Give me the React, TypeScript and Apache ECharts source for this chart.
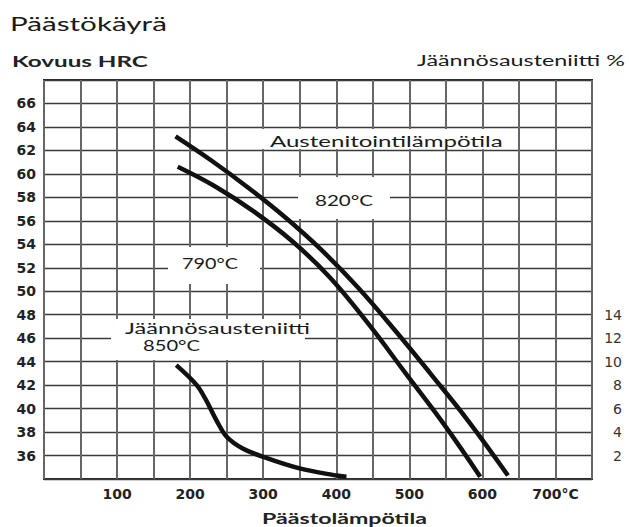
import React, { useEffect, useRef } from "react";
import * as echarts from "echarts";

// Tempering curve, austenitizing 820 °C (upper) and 790 °C (lower): temperature °C -> HRC
const temps820 = [180, 230, 280, 330, 380, 430, 480, 530, 580, 635];
const hrc820 = [63.2, 61.1, 58.8, 56.3, 53.5, 50.3, 46.7, 42.9, 39.0, 34.3];
const temps790 = [183, 235, 287, 339, 391, 443, 495, 547, 597];
const hrc790 = [60.6, 58.9, 56.8, 54.3, 51.2, 47.3, 43.0, 38.7, 34.2];
// Residual austenite (850 °C), right axis %
const tempsRA = [181, 209, 222, 236, 250, 272, 304, 350, 395, 414];
const residualRA = [9.7, 8.0, 6.7, 5.0, 3.6, 2.6, 1.8, 0.9, 0.35, 0.2];

const xTickLabels = [100, 200, 300, 400, 500, 600, 700];
const leftTickLabels = [36, 38, 40, 42, 44, 46, 48, 50, 52, 54, 56, 58, 60, 62, 64, 66];
const rightTickLabels = [2, 4, 6, 8, 10, 12, 14];

const FAMILY = "Lato, 'DejaVu Sans', sans-serif";

function measure(text: string, size: number, weight: string): number {
  const ctx = document.createElement("canvas").getContext("2d");
  if (!ctx) return 0;
  ctx.font = `${weight} ${size}px ${FAMILY}`;
  return ctx.measureText(text).width;
}

function fitText(text: string, left: number, right: number, cy: number, size: number, weight: string, color: string) {
  const w = measure(text, size, weight);
  const sx = w > 0 ? (right - left) / w : 1;
  return {
    type: "text",
    x: left,
    y: cy,
    scaleX: sx,
    z: 100,
    style: {
      text,
      font: `${weight} ${size}px ${FAMILY}`,
      fill: color,
      textAlign: "left",
      textVerticalAlign: "middle",
      verticalAlign: "middle",
    },
  };
}

function box(x: number, y: number, w: number, h: number) {
  return { type: "rect", z: 99, shape: { x, y, width: w, height: h }, style: { fill: "#ffffff" } };
}

export default function App() {
  const ref = useRef<HTMLDivElement>(null);
  useEffect(() => {
    if (!ref.current) return;
    const chart = echarts.init(ref.current, undefined, { renderer: "svg" });
    const axisFont = { fontFamily: "'DejaVu Sans', sans-serif", fontSize: 14, fontWeight: "bold" as const, color: "#222" };
    const curve = { color: "#111", width: 4.5 };
    const option: any = {
      animation: false,
      backgroundColor: "#ffffff",
      grid: { left: 44, right: 37, top: 80, bottom: 48, show: true, borderColor: "#2a2a2a", borderWidth: 2, backgroundColor: "transparent" },
      xAxis: {
        type: "value",
        min: 0,
        max: 750,
        interval: 50,
        axisLine: { show: false },
        axisTick: { show: false },
        splitLine: { show: true, lineStyle: { color: "#666", width: 2 } },
        axisLabel: {
          ...axisFont,
          margin: 8,
          formatter: (v: number) => (xTickLabels.includes(v) ? (v === 700 ? "700°C" : String(v)) : ""),
        },
      },
      yAxis: [
        {
          type: "value",
          min: 34,
          max: 68,
          interval: 2,
          axisLine: { show: false },
          axisTick: { show: false },
          splitLine: { show: true, lineStyle: { color: "#3a3a3a", width: 1.3 } },
          axisLabel: { ...axisFont, margin: 8, formatter: (v: number) => (leftTickLabels.includes(v) ? String(v) : "") },
        },
        {
          type: "value",
          min: 0,
          max: 34,
          interval: 2,
          position: "right",
          axisLine: { show: false },
          axisTick: { show: false },
          splitLine: { show: false },
          axisLabel: { ...axisFont, fontWeight: "normal", color: "#333", align: "right", margin: 30, formatter: (v: number) => (rightTickLabels.includes(v) ? String(v) : "") },
        },
      ],
      series: [
        {
          name: "820°C",
          type: "line",
          yAxisIndex: 0,
          data: temps820.map((t, i) => [t, hrc820[i]]),
          smooth: 0.4,
          symbol: "none",
          lineStyle: curve,
          z: 3,
        },
        {
          name: "790°C",
          type: "line",
          yAxisIndex: 0,
          data: temps790.map((t, i) => [t, hrc790[i]]),
          smooth: 0.4,
          symbol: "none",
          lineStyle: curve,
          z: 3,
        },
        {
          name: "Jäännösausteniitti 850°C",
          type: "line",
          yAxisIndex: 1,
          data: tempsRA.map((t, i) => [t, residualRA[i]]),
          smooth: 0.35,
          symbol: "none",
          lineStyle: curve,
          z: 3,
        },
      ],
      graphic: [
        box(252, 129, 263, 20),
        box(298, 177, 92, 42),
        box(168, 247, 92, 37),
        box(111, 319, 194, 41),
        fitText("Päästökäyrä", 10, 167, 23, 20, "normal", "#1a1a1a"),
        fitText("Kovuus HRC", 12, 148, 61, 15, "bold", "#222"),
        fitText("Jäännösausteniitti %", 417, 625, 60, 15, "normal", "#1a1a1a"),
        fitText("Päästolämpötila", 262, 427, 518, 15, "bold", "#222"),
        fitText("Austenitointilämpötila", 270, 503, 141, 15, "normal", "#1a1a1a"),
        fitText("820°C", 315, 373, 200, 15, "normal", "#1a1a1a"),
        fitText("790°C", 182, 238, 263, 15, "normal", "#1a1a1a"),
        fitText("Jäännösausteniitti", 125, 310, 328, 15, "normal", "#1a1a1a"),
        fitText("850°C", 143, 200, 345, 15, "normal", "#1a1a1a"),
      ],
    };
    chart.setOption(option);
    return () => chart.dispose();
  }, []);
  return (
    <div
      ref={ref}
      style={{ position: "absolute", left: 0, top: 0, width: 629, height: 527, background: "#fff" }}
    />
  );
}
